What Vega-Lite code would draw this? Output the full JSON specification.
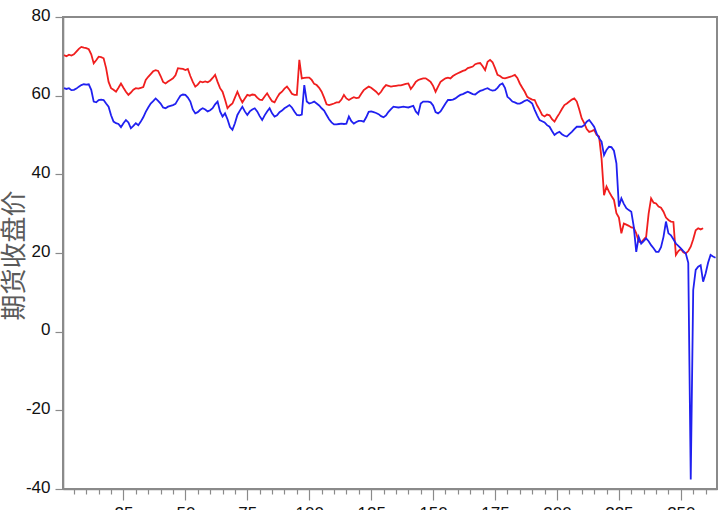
{
"$schema": "https://vega.github.io/schema/vega-lite/v6.json",
"width": 654, "height": 472,
"autosize": {"type": "none"},
"padding": {"left": 63, "top": 17, "right": 3, "bottom": 21},
"background": "white",
"config": {
 "view": {"stroke": "#8a8a8a", "strokeWidth": 2},
 "axis": {"grid": false, "domainColor": "#8a8a8a", "domainWidth": 1.6, "tickColor": "#8a8a8a", "tickWidth": 1.2, "labelFont": "Liberation Sans", "labelFontSize": 17, "labelColor": "#111111"}
},
"datasets": {
"red": [
{"t":1,"v":70.3},{"t":2,"v":70.0},{"t":3,"v":70.4},{"t":4,"v":70.2},{"t":5,"v":70.5},{"t":6,"v":71.2},{"t":7,"v":71.9},{"t":8,"v":72.4},{"t":9,"v":72.2},{"t":10,"v":72.1},
{"t":11,"v":71.8},{"t":12,"v":70.5},{"t":13,"v":68.2},{"t":14,"v":69.0},{"t":15,"v":69.9},{"t":16,"v":69.8},{"t":17,"v":69.5},{"t":18,"v":67.0},{"t":19,"v":63.5},{"t":20,"v":61.9},
{"t":21,"v":61.5},{"t":22,"v":61.0},{"t":23,"v":62.0},{"t":24,"v":63.1},{"t":25,"v":62.0},{"t":26,"v":61.0},{"t":27,"v":60.2},{"t":28,"v":60.8},{"t":29,"v":61.5},{"t":30,"v":61.9},
{"t":31,"v":61.8},{"t":32,"v":62.0},{"t":33,"v":62.2},{"t":34,"v":64.0},{"t":35,"v":64.8},{"t":36,"v":65.5},{"t":37,"v":66.2},{"t":38,"v":66.5},{"t":39,"v":66.3},{"t":40,"v":65.0},
{"t":41,"v":63.5},{"t":42,"v":63.1},{"t":43,"v":63.6},{"t":44,"v":64.0},{"t":45,"v":64.4},{"t":46,"v":65.2},{"t":47,"v":67.0},{"t":48,"v":66.9},{"t":49,"v":66.8},{"t":50,"v":66.5},
{"t":51,"v":66.8},{"t":52,"v":65.0},{"t":53,"v":63.5},{"t":54,"v":62.3},{"t":55,"v":62.8},{"t":56,"v":63.6},{"t":57,"v":63.4},{"t":58,"v":63.6},{"t":59,"v":63.4},{"t":60,"v":63.8},
{"t":61,"v":64.5},{"t":62,"v":65.3},{"t":63,"v":63.5},{"t":64,"v":61.9},{"t":65,"v":61.0},{"t":66,"v":59.0},{"t":67,"v":56.8},{"t":68,"v":57.5},{"t":69,"v":58.0},{"t":70,"v":59.5},
{"t":71,"v":61.0},{"t":72,"v":59.5},{"t":73,"v":58.3},{"t":74,"v":59.3},{"t":75,"v":60.2},{"t":76,"v":60.0},{"t":77,"v":60.3},{"t":78,"v":60.2},{"t":79,"v":59.5},{"t":80,"v":59.0},
{"t":81,"v":58.9},{"t":82,"v":59.8},{"t":83,"v":60.6},{"t":84,"v":59.5},{"t":85,"v":58.6},{"t":86,"v":58.3},{"t":87,"v":59.5},{"t":88,"v":60.5},{"t":89,"v":61.0},{"t":90,"v":61.8},
{"t":91,"v":62.3},{"t":92,"v":61.5},{"t":93,"v":60.5},{"t":94,"v":60.2},{"t":95,"v":60.2},{"t":96,"v":69.1},{"t":97,"v":64.4},{"t":98,"v":64.5},{"t":99,"v":64.6},{"t":100,"v":64.6},
{"t":101,"v":64.0},{"t":102,"v":63.0},{"t":103,"v":62.7},{"t":104,"v":62.0},{"t":105,"v":61.0},{"t":106,"v":59.5},{"t":107,"v":57.8},{"t":108,"v":57.6},{"t":109,"v":57.8},{"t":110,"v":58.0},
{"t":111,"v":58.3},{"t":112,"v":58.3},{"t":113,"v":59.0},{"t":114,"v":60.2},{"t":115,"v":59.3},{"t":116,"v":58.9},{"t":117,"v":59.3},{"t":118,"v":59.6},{"t":119,"v":59.4},{"t":120,"v":59.5},
{"t":121,"v":60.5},{"t":122,"v":61.4},{"t":123,"v":61.9},{"t":124,"v":62.3},{"t":125,"v":62.0},{"t":126,"v":61.5},{"t":127,"v":61.0},{"t":128,"v":60.3},{"t":129,"v":61.0},{"t":130,"v":62.0},
{"t":131,"v":62.7},{"t":132,"v":62.5},{"t":133,"v":62.3},{"t":134,"v":62.4},{"t":135,"v":62.5},{"t":136,"v":62.6},{"t":137,"v":62.6},{"t":138,"v":62.8},{"t":139,"v":63.0},{"t":140,"v":63.1},
{"t":141,"v":61.7},{"t":142,"v":62.5},{"t":143,"v":63.5},{"t":144,"v":64.0},{"t":145,"v":64.2},{"t":146,"v":64.4},{"t":147,"v":64.4},{"t":148,"v":64.0},{"t":149,"v":63.5},{"t":150,"v":62.5},
{"t":151,"v":61.0},{"t":152,"v":62.3},{"t":153,"v":63.5},{"t":154,"v":64.0},{"t":155,"v":64.4},{"t":156,"v":64.6},{"t":157,"v":64.4},{"t":158,"v":65.0},{"t":159,"v":65.4},{"t":160,"v":65.7},
{"t":161,"v":66.0},{"t":162,"v":66.3},{"t":163,"v":66.5},{"t":164,"v":67.0},{"t":165,"v":67.2},{"t":166,"v":67.4},{"t":167,"v":68.0},{"t":168,"v":68.2},{"t":169,"v":68.3},{"t":170,"v":67.5},
{"t":171,"v":66.5},{"t":172,"v":68.6},{"t":173,"v":69.1},{"t":174,"v":68.5},{"t":175,"v":67.0},{"t":176,"v":65.3},{"t":177,"v":65.0},{"t":178,"v":64.5},{"t":179,"v":64.4},{"t":180,"v":64.6},
{"t":181,"v":64.8},{"t":182,"v":65.0},{"t":183,"v":65.3},{"t":184,"v":64.5},{"t":185,"v":63.1},{"t":186,"v":62.0},{"t":187,"v":61.0},{"t":188,"v":59.7},{"t":189,"v":59.3},{"t":190,"v":59.0},
{"t":191,"v":58.9},{"t":192,"v":57.5},{"t":193,"v":56.4},{"t":194,"v":55.1},{"t":195,"v":54.7},{"t":196,"v":55.2},{"t":197,"v":55.0},{"t":198,"v":54.0},{"t":199,"v":53.4},{"t":200,"v":54.5},
{"t":201,"v":55.5},{"t":202,"v":56.6},{"t":203,"v":57.6},{"t":204,"v":58.0},{"t":205,"v":58.5},{"t":206,"v":59.0},{"t":207,"v":59.3},{"t":208,"v":58.5},{"t":209,"v":56.5},{"t":210,"v":54.2},
{"t":211,"v":53.0},{"t":212,"v":51.5},{"t":213,"v":50.8},{"t":214,"v":51.0},{"t":215,"v":51.3},{"t":216,"v":50.0},{"t":217,"v":49.6},{"t":218,"v":44.0},{"t":219,"v":34.7},{"t":220,"v":36.9},
{"t":221,"v":35.6},{"t":222,"v":34.5},{"t":223,"v":33.5},{"t":224,"v":30.1},{"t":225,"v":29.0},{"t":226,"v":25.0},{"t":227,"v":27.5},{"t":228,"v":27.2},{"t":229,"v":26.9},{"t":230,"v":26.5},
{"t":231,"v":26.4},{"t":232,"v":25.0},{"t":233,"v":22.9},{"t":234,"v":22.7},{"t":235,"v":23.4},{"t":236,"v":24.1},{"t":237,"v":30.0},{"t":238,"v":33.9},{"t":239,"v":32.8},{"t":240,"v":32.6},
{"t":241,"v":31.8},{"t":242,"v":31.5},{"t":243,"v":30.5},{"t":244,"v":29.0},{"t":245,"v":28.4},{"t":246,"v":28.0},{"t":247,"v":27.9},{"t":248,"v":19.5},{"t":249,"v":20.5},{"t":250,"v":21.0},
{"t":251,"v":20.2},{"t":252,"v":19.9},{"t":253,"v":20.5},{"t":254,"v":21.6},{"t":255,"v":23.5},{"t":256,"v":25.8},{"t":257,"v":26.3},{"t":258,"v":26.0},{"t":259,"v":26.3}
],
"blue": [
{"t":1,"v":61.9},{"t":2,"v":61.7},{"t":3,"v":61.9},{"t":4,"v":61.4},{"t":5,"v":61.5},{"t":6,"v":61.8},{"t":7,"v":62.3},{"t":8,"v":62.7},{"t":9,"v":62.9},{"t":10,"v":62.8},
{"t":11,"v":62.9},{"t":12,"v":61.5},{"t":13,"v":58.5},{"t":14,"v":58.3},{"t":15,"v":58.9},{"t":16,"v":59.0},{"t":17,"v":58.9},{"t":18,"v":58.0},{"t":19,"v":57.2},{"t":20,"v":55.0},
{"t":21,"v":53.4},{"t":22,"v":53.0},{"t":23,"v":52.8},{"t":24,"v":52.0},{"t":25,"v":53.0},{"t":26,"v":53.8},{"t":27,"v":53.2},{"t":28,"v":51.7},{"t":29,"v":52.3},{"t":30,"v":53.0},
{"t":31,"v":52.5},{"t":32,"v":53.4},{"t":33,"v":54.5},{"t":34,"v":55.9},{"t":35,"v":57.0},{"t":36,"v":58.0},{"t":37,"v":58.6},{"t":38,"v":59.3},{"t":39,"v":58.7},{"t":40,"v":58.0},
{"t":41,"v":57.0},{"t":42,"v":56.8},{"t":43,"v":57.2},{"t":44,"v":57.4},{"t":45,"v":57.6},{"t":46,"v":57.9},{"t":47,"v":59.0},{"t":48,"v":60.0},{"t":49,"v":60.3},{"t":50,"v":60.2},
{"t":51,"v":59.5},{"t":52,"v":58.5},{"t":53,"v":56.5},{"t":54,"v":55.5},{"t":55,"v":55.8},{"t":56,"v":56.4},{"t":57,"v":56.8},{"t":58,"v":56.5},{"t":59,"v":56.0},{"t":60,"v":56.3},
{"t":61,"v":56.8},{"t":62,"v":57.8},{"t":63,"v":58.5},{"t":64,"v":56.0},{"t":65,"v":54.7},{"t":66,"v":55.5},{"t":67,"v":54.0},{"t":68,"v":52.0},{"t":69,"v":51.3},{"t":70,"v":53.0},
{"t":71,"v":55.1},{"t":72,"v":56.2},{"t":73,"v":57.2},{"t":74,"v":56.0},{"t":75,"v":55.1},{"t":76,"v":56.0},{"t":77,"v":56.5},{"t":78,"v":56.8},{"t":79,"v":56.0},{"t":80,"v":54.8},
{"t":81,"v":53.8},{"t":82,"v":55.0},{"t":83,"v":56.0},{"t":84,"v":56.8},{"t":85,"v":55.5},{"t":86,"v":54.7},{"t":87,"v":55.0},{"t":88,"v":55.8},{"t":89,"v":56.2},{"t":90,"v":56.8},
{"t":91,"v":57.2},{"t":92,"v":57.6},{"t":93,"v":57.0},{"t":94,"v":56.0},{"t":95,"v":55.1},{"t":96,"v":55.0},{"t":97,"v":55.2},{"t":98,"v":62.7},{"t":99,"v":58.5},{"t":100,"v":58.0},
{"t":101,"v":58.2},{"t":102,"v":58.5},{"t":103,"v":58.0},{"t":104,"v":57.5},{"t":105,"v":56.8},{"t":106,"v":56.2},{"t":107,"v":55.1},{"t":108,"v":54.0},{"t":109,"v":53.2},{"t":110,"v":52.7},
{"t":111,"v":52.7},{"t":112,"v":52.8},{"t":113,"v":52.9},{"t":114,"v":52.8},{"t":115,"v":52.9},{"t":116,"v":54.7},{"t":117,"v":53.5},{"t":118,"v":52.9},{"t":119,"v":53.3},{"t":120,"v":53.6},
{"t":121,"v":53.6},{"t":122,"v":53.4},{"t":123,"v":54.5},{"t":124,"v":55.9},{"t":125,"v":56.0},{"t":126,"v":55.8},{"t":127,"v":55.6},{"t":128,"v":55.3},{"t":129,"v":54.8},{"t":130,"v":54.5},
{"t":131,"v":55.0},{"t":132,"v":55.9},{"t":133,"v":56.6},{"t":134,"v":57.2},{"t":135,"v":57.1},{"t":136,"v":57.0},{"t":137,"v":57.1},{"t":138,"v":57.2},{"t":139,"v":57.1},{"t":140,"v":57.0},
{"t":141,"v":57.2},{"t":142,"v":57.4},{"t":143,"v":56.0},{"t":144,"v":55.3},{"t":145,"v":58.0},{"t":146,"v":58.5},{"t":147,"v":58.5},{"t":148,"v":58.5},{"t":149,"v":58.3},{"t":150,"v":57.5},
{"t":151,"v":55.8},{"t":152,"v":55.5},{"t":153,"v":56.0},{"t":154,"v":57.0},{"t":155,"v":58.0},{"t":156,"v":58.9},{"t":157,"v":58.9},{"t":158,"v":59.0},{"t":159,"v":59.3},{"t":160,"v":59.8},
{"t":161,"v":60.2},{"t":162,"v":60.4},{"t":163,"v":60.7},{"t":164,"v":61.0},{"t":165,"v":60.7},{"t":166,"v":60.4},{"t":167,"v":60.3},{"t":168,"v":60.8},{"t":169,"v":61.2},{"t":170,"v":61.4},
{"t":171,"v":61.7},{"t":172,"v":61.9},{"t":173,"v":61.5},{"t":174,"v":61.3},{"t":175,"v":61.4},{"t":176,"v":62.0},{"t":177,"v":62.8},{"t":178,"v":63.1},{"t":179,"v":62.0},{"t":180,"v":59.7},
{"t":181,"v":59.2},{"t":182,"v":58.5},{"t":183,"v":58.3},{"t":184,"v":58.0},{"t":185,"v":58.0},{"t":186,"v":58.3},{"t":187,"v":58.7},{"t":188,"v":58.9},{"t":189,"v":58.5},{"t":190,"v":58.0},
{"t":191,"v":56.4},{"t":192,"v":55.0},{"t":193,"v":53.8},{"t":194,"v":53.5},{"t":195,"v":53.2},{"t":196,"v":52.5},{"t":197,"v":52.1},{"t":198,"v":51.0},{"t":199,"v":50.0},{"t":200,"v":50.5},
{"t":201,"v":50.8},{"t":202,"v":50.2},{"t":203,"v":49.8},{"t":204,"v":49.6},{"t":205,"v":50.2},{"t":206,"v":50.8},{"t":207,"v":51.5},{"t":208,"v":52.1},{"t":209,"v":52.1},{"t":210,"v":52.1},
{"t":211,"v":52.5},{"t":212,"v":53.4},{"t":213,"v":53.8},{"t":214,"v":53.0},{"t":215,"v":52.1},{"t":216,"v":50.4},{"t":217,"v":49.2},{"t":218,"v":48.3},{"t":219,"v":44.9},{"t":220,"v":46.2},
{"t":221,"v":47.0},{"t":222,"v":46.9},{"t":223,"v":46.0},{"t":224,"v":42.8},{"t":225,"v":31.8},{"t":226,"v":33.9},{"t":227,"v":32.5},{"t":228,"v":31.4},{"t":229,"v":30.9},{"t":230,"v":30.5},
{"t":231,"v":26.7},{"t":232,"v":20.3},{"t":233,"v":24.1},{"t":234,"v":22.4},{"t":235,"v":23.0},{"t":236,"v":23.7},{"t":237,"v":23.0},{"t":238,"v":22.0},{"t":239,"v":21.2},{"t":240,"v":20.3},
{"t":241,"v":20.3},{"t":242,"v":21.5},{"t":243,"v":24.1},{"t":244,"v":28.0},{"t":245,"v":25.0},{"t":246,"v":24.5},{"t":247,"v":23.5},{"t":248,"v":22.4},{"t":249,"v":21.8},{"t":250,"v":21.2},
{"t":251,"v":20.5},{"t":252,"v":19.9},{"t":253,"v":17.5},{"t":254,"v":-37.6},{"t":255,"v":10.6},{"t":256,"v":15.7},{"t":257,"v":16.5},{"t":258,"v":16.9},{"t":259,"v":12.7},{"t":260,"v":14.8},
{"t":261,"v":17.5},{"t":262,"v":19.5},{"t":263,"v":19.1},{"t":264,"v":18.8}
]
},
"layer": [
 {
  "data": {"name": "red"},
  "mark": {"type": "line", "color": "#f01e1e", "strokeWidth": 1.8},
  "encoding": {
   "x": {"field": "t", "type": "quantitative", "scale": {"domain": [0.6, 264.6], "nice": false, "zero": false},
         "axis": {"orient": "bottom", "values": [25, 50, 75, 100, 125, 150, 175, 200, 225, 250], "tickSize": 11, "labelPadding": 5, "title": null, "labelFlush": false}},
   "y": {"field": "v", "type": "quantitative", "scale": {"domain": [-40, 80], "nice": false, "zero": false},
         "axis": {"values": [-40, -20, 0, 20, 40, 60, 80], "tickSize": 8, "labelPadding": 5, "labelOffset": -2, "labelFlush": false,
                  "labelExpr": "datum.value < 0 ? '-' + abs(datum.value) : '' + datum.value",
                  "title": "期货收盘价", "titleFont": "Noto Sans CJK SC", "titleFontSize": 26, "titleFontWeight": "normal", "titleColor": "#5a5a5a",
                  "titleAngle": 270, "titleAlign": "center", "titleBaseline": "middle", "titleX": -49, "titleY": 238}}
  }
 },
 {
  "data": {"name": "blue"},
  "mark": {"type": "line", "color": "#2020f0", "strokeWidth": 1.8},
  "encoding": {
   "x": {"field": "t", "type": "quantitative", "scale": {"domain": [0.6, 264.6], "nice": false, "zero": false},
         "axis": {"orient": "bottom", "values": [5,10,15,20,30,35,40,45,55,60,65,70,80,85,90,95,105,110,115,120,130,135,140,145,155,160,165,170,180,185,190,195,205,210,215,220,230,235,240,245,255,260], "tickSize": 5, "labels": false, "domain": false, "title": null}},
   "y": {"field": "v", "type": "quantitative", "scale": {"domain": [-40, 80], "nice": false, "zero": false}}
  }
 }
],
"resolve": {"axis": {"x": "independent"}}
}
